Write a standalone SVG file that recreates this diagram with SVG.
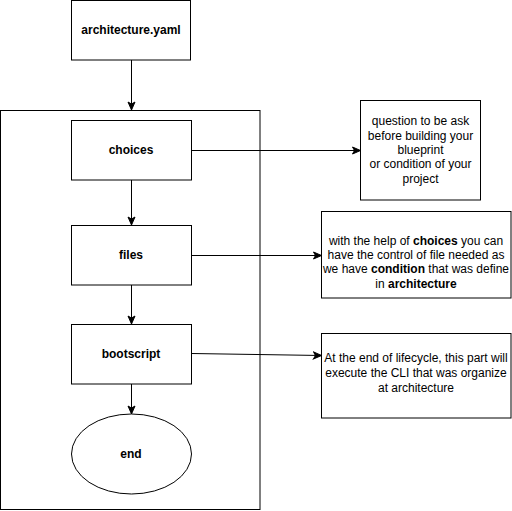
<svg xmlns="http://www.w3.org/2000/svg" width="512" height="511" viewBox="0 0 512 511">
<style>
.box{fill:#fff;stroke:#000;stroke-width:1}
.lbl{font-family:"Liberation Sans",Arial,sans-serif;font-size:12px;font-weight:bold;fill:#000;text-anchor:middle}
.txt{font-family:"Liberation Sans",Arial,sans-serif;font-size:12px;fill:#000;text-anchor:middle}
.b{font-weight:bold}
.edge{fill:none;stroke:#000;stroke-width:1}
</style>
<defs>
<marker id="arr" markerUnits="userSpaceOnUse" markerWidth="10" markerHeight="10" viewBox="0 0 10 10" refX="9" refY="5" orient="auto">
<path d="M1,1.5 L9,5 L1,8.5 L3,5 Z" fill="#000" stroke="#000" stroke-width="1"/>
</marker>
</defs>
<rect width="512" height="511" fill="#fff"/>
<g id="container"><rect class="box" x="0.5" y="110.5" width="259.5" height="399"/></g>
<g id="architecture"><rect class="box" x="71.5" y="0.5" width="119" height="59.5"/><text class="lbl" x="131" y="34">architecture.yaml</text></g>
<g id="choices"><rect class="box" x="71.5" y="120.5" width="120" height="59.5"/><text class="lbl" x="131" y="154">choices</text></g>
<g id="files"><rect class="box" x="71.5" y="225.5" width="120" height="59.5"/><text class="lbl" x="131" y="259">files</text></g>
<g id="bootscript"><rect class="box" x="71.5" y="324.5" width="120" height="59.5"/><text class="lbl" x="131" y="358">bootscript</text></g>
<g id="end"><ellipse class="box" cx="131.5" cy="454" rx="60" ry="40"/><text class="lbl" x="131" y="458">end</text></g>
<g id="note1"><rect class="box" x="360.5" y="100.5" width="120" height="99.5"/>
<text class="txt" x="420.5" y="125">question to be ask</text>
<text class="txt" x="420.5" y="140">before building your</text>
<text class="txt" x="420.5" y="154">blueprint</text>
<text class="txt" x="420.5" y="168">or condition of your</text>
<text class="txt" x="420.5" y="183">project</text></g>
<g id="note2"><rect class="box" x="321.5" y="211.5" width="189.5" height="86.5"/>
<text class="txt" x="416" y="245">with the help of <tspan class="b">choices</tspan> you can</text>
<text class="txt" x="416" y="259">have the control of file needed as</text>
<text class="txt" x="416" y="273">we have <tspan class="b">condition</tspan> that was define</text>
<text class="txt" x="416" y="288">in <tspan class="b">architecture</tspan></text></g>
<g id="note3"><rect class="box" x="321.5" y="333.5" width="189.5" height="84.5"/>
<text class="txt" x="416" y="362">At the end of lifecycle, this part will</text>
<text class="txt" x="416" y="377">execute the CLI that was organize</text>
<text class="txt" x="416" y="392">at architecture</text></g>
<g id="connectors">
<path class="edge" d="M131.5,60 L131.5,110" marker-end="url(#arr)"/>
<path class="edge" d="M131.5,180 L131.5,225" marker-end="url(#arr)"/>
<path class="edge" d="M131.5,285 L131.5,324" marker-end="url(#arr)"/>
<path class="edge" d="M131.5,384 L131.5,414" marker-end="url(#arr)"/>
<path class="edge" d="M191.5,150.5 L360.5,150.5" marker-end="url(#arr)"/>
<path class="edge" d="M191.5,255.5 L321.5,255.5" marker-end="url(#arr)"/>
<path class="edge" d="M191.5,353.5 L321.5,355.5" marker-end="url(#arr)"/>
</g>
</svg>
